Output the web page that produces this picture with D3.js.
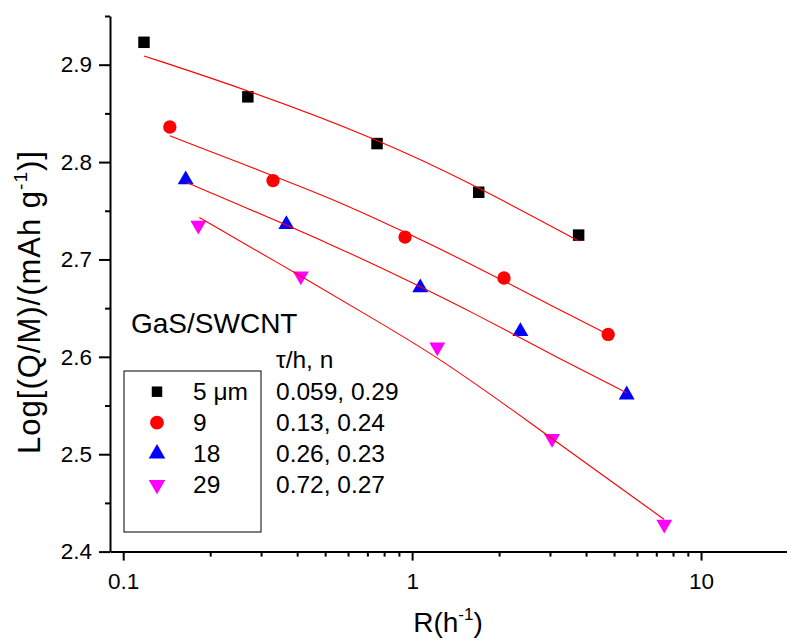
<!DOCTYPE html>
<html>
<head>
<meta charset="utf-8">
<script src="https://cdn.jsdelivr.net/npm/d3@7"></script>
<style>
  body { margin: 0; background: #fff; }
  svg { display: block; font-family: "Liberation Sans", Arial, sans-serif; }
</style>
</head>
<body>
<div id="chart"></div>
<script>
// measured points, R in 1/h and log capacity
const rate5 = [0.118, 0.270, 0.756, 1.70, 3.77];
const cap5 = [2.923, 2.867, 2.819, 2.769, 2.725];
const rate9 = [0.145, 0.330, 0.945, 2.08, 4.77];
const cap9 = [2.836, 2.781, 2.723, 2.681, 2.623];
const rate18 = [0.1645, 0.367, 1.067, 2.37, 5.53];
const cap18 = [2.782, 2.736, 2.671, 2.626, 2.561];
const rate29 = [0.182, 0.412, 1.222, 3.05, 7.46];
const cap29 = [2.735, 2.683, 2.610, 2.516, 2.428];

// fitted curves
const fitR5 = [0.118, 0.270, 0.756, 1.586, 3.77];
const fitQ5 = [2.909, 2.874, 2.824, 2.779, 2.719];
const fitR9 = [0.145, 0.330, 0.563, 0.945, 1.586, 3.25, 4.69];
const fitQ9 = [2.827, 2.786, 2.759, 2.728, 2.696, 2.648, 2.624];
const fitR18 = [0.166, 0.563, 1.067, 1.586, 3.29, 5.53];
const fitQ18 = [2.779, 2.712, 2.672, 2.647, 2.597, 2.563];
const fitR29 = [0.1834, 0.412, 0.774, 1.222, 2.363, 3.05, 7.46];
const fitQ29 = [2.743, 2.683, 2.635, 2.600, 2.540, 2.516, 2.433];

const thickness = ["5 \u03bcm", "9", "18", "29"];
const params = ["0.059, 0.29", "0.13, 0.24", "0.26, 0.23", "0.72, 0.27"];
const colors = ["#000000", "#ff0000", "#0000ff", "#ff00ff"];

const xMajor = [0.1, 1, 10];
const xMinor = [0.2, 0.3, 0.4, 0.5, 0.6, 0.7, 0.8, 0.9, 2, 3, 4, 5, 6, 7, 8, 9];
const yMajor = [2.4, 2.5, 2.6, 2.7, 2.8, 2.9];
const yMinor = [2.45, 2.55, 2.65, 2.75, 2.85, 2.95];

const width = 787, height = 641;
const svg = d3.select("#chart").append("svg")
  .attr("width", width).attr("height", height);

const x = d3.scaleLog().domain([0.09, 20]).range([110, 788]);
const y = d3.scaleLinear().domain([2.4, 2.95]).range([551.6, 16]);

const rates = [rate5, rate9, rate18, rate29];
const caps = [cap5, cap9, cap18, cap29];
const fitRs = [fitR5, fitR9, fitR18, fitR29];
const fitQs = [fitQ5, fitQ9, fitQ18, fitQ29];

const shapes = [
  d3.symbol().type(d3.symbolSquare).size(132),
  d3.symbol().type(d3.symbolCircle).size(140),
  d3.symbol().type(d3.symbolTriangle).size(110),
  d3.symbol().type(d3.symbolTriangle).size(110)
];
const rot = [0, 0, 0, 180];

// markers
rates.forEach((r, i) => {
  svg.append("g").selectAll("path")
    .data(r.map((v, j) => [v, caps[i][j]]))
    .enter().append("path")
    .attr("d", shapes[i]())
    .attr("fill", colors[i])
    .attr("transform", d => `translate(${x(d[0])},${y(d[1])}) rotate(${rot[i]})`);
});

// fit lines drawn over the markers
const line = d3.line().x(d => x(d[0])).y(d => y(d[1])).curve(d3.curveBasis);
fitRs.forEach((r, i) => {
  svg.append("path")
    .datum(r.map((v, j) => [v, fitQs[i][j]]))
    .attr("d", line)
    .attr("fill", "none")
    .attr("stroke", "#ff0000")
    .attr("stroke-width", 1.1);
});

// axes
svg.append("g").attr("transform", "translate(0,551.6)")
  .call(d3.axisBottom(x).tickValues(xMajor).tickFormat(d3.format("")).tickSize(9).tickSizeOuter(0).tickPadding(12));
svg.append("g").attr("transform", "translate(0,551.6)")
  .call(d3.axisBottom(x).tickValues(xMinor).tickFormat("").tickSize(5).tickSizeOuter(0))
  .select(".domain").remove();
svg.append("g").attr("transform", "translate(110,0)")
  .call(d3.axisLeft(y).tickValues(yMajor).tickFormat(d3.format(".1f")).tickSize(11).tickSizeOuter(0).tickPadding(7));
svg.append("g").attr("transform", "translate(110,0)")
  .call(d3.axisLeft(y).tickValues(yMinor).tickFormat("").tickSize(5).tickSizeOuter(0))
  .select(".domain").remove();

svg.selectAll(".domain").attr("stroke-width", 2);
svg.selectAll(".tick line").attr("stroke-width", 2);
svg.selectAll(".tick text").attr("font-size", 22.5).attr("fill", "#000")
  .attr("font-family", "'Liberation Sans', Arial, sans-serif");

// axis titles
const xt = svg.append("text").attr("x", 448).attr("y", 632)
  .attr("text-anchor", "middle").attr("font-size", 28);
xt.append("tspan").text("R(h");
xt.append("tspan").attr("font-size", 17).attr("dy", -12).text("-1");
xt.append("tspan").attr("dy", 12).text(")");

const yt = svg.append("text").attr("transform", "translate(40,302) rotate(-90)")
  .attr("text-anchor", "middle").attr("font-size", 31).attr("letter-spacing", 1);
yt.append("tspan").text("Log[(Q/M)/(mAh g");
yt.append("tspan").attr("font-size", 19).attr("dy", -13).text("-1");
yt.append("tspan").attr("dy", 13).text(")]");

// legend
svg.append("text").attr("x", 131).attr("y", 333).attr("font-size", 28).text("GaS/SWCNT");
svg.append("text").attr("x", 276).attr("y", 368).attr("font-size", 24.5).text("\u03c4/h, n");
svg.append("rect").attr("x", 124).attr("y", 371).attr("width", 137).attr("height", 161)
  .attr("fill", "none").attr("stroke", "#000").attr("stroke-width", 1);

const legendShapes = [
  d3.symbol().type(d3.symbolSquare).size(110),
  d3.symbol().type(d3.symbolCircle).size(150),
  d3.symbol().type(d3.symbolTriangle).size(120),
  d3.symbol().type(d3.symbolTriangle).size(120)
];
thickness.forEach((t, i) => {
  const cy = 391.7 + i * 31;
  svg.append("path").attr("d", legendShapes[i]()).attr("fill", colors[i])
    .attr("transform", `translate(157,${cy}) rotate(${rot[i]})`);
  svg.append("text").attr("x", 193).attr("y", cy + 8.5).attr("font-size", 24.5).text(t);
  svg.append("text").attr("x", 276).attr("y", cy + 8.5).attr("font-size", 24.5).text(params[i]);
});
</script>
</body>
</html>
